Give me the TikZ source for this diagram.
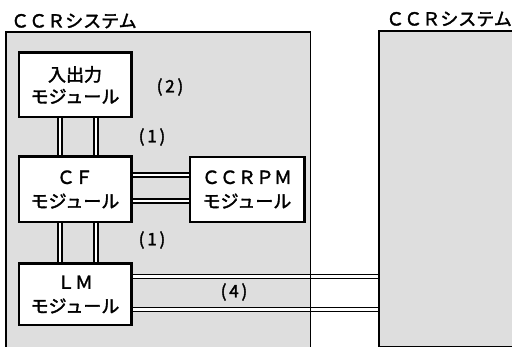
\documentclass[tikz,border=0pt]{standalone}
\usepackage{fontspec}
\setmainfont{Noto Sans CJK JP}
\newfontfamily\jpmed{Noto Sans CJK JP}[FakeBold=2]
\begin{document}
\begin{tikzpicture}[x=1pt,y=-1pt,
  sysfill/.style={fill=black!13, draw=none, inner sep=0, anchor=north west},
  sysline/.style={draw=black, line width=1.3pt},
  mod/.style={draw=black, line width=1.5pt, fill=white, inner sep=0, align=center, font=\jpmed\fontsize{18}{24}\selectfont},
  dbl/.style={draw=black, double=white, line width=1.4pt, double distance=2.4pt},
  lbl/.style={font=\jpmed\fontsize{17}{20}\selectfont, inner sep=0},
  ttl/.style={font=\jpmed\fontsize{18}{20}\selectfont, inner sep=0}]
\useasboundingbox (0,0) rectangle (512,347);
% system areas
\node[sysfill, minimum width=304pt, minimum height=340pt] (lsys) at (6,32) {};
\node[sysfill, minimum width=150pt, minimum height=315pt] (rsys) at (379,31) {};
\node[ttl, anchor=west] (t1) at (11,21) {ＣＣＲシステム};
\node[ttl, anchor=east] (t2) at (512,19) {ＣＣＲシステム};
% modules
\node[mod, minimum width=112pt, minimum height=64pt] (io) at (75,85) {入出力\\[-2pt]モジュール};
\node[mod, minimum width=112pt, minimum height=65pt] (cf) at (75,189.5) {ＣＦ\\モジュール};
\node[mod, minimum width=114pt, minimum height=64pt] (pm) at (247,189.5) {ＣＣＲＰＭ\\モジュール};
\node[mod, minimum width=112pt, minimum height=61pt] (lm) at (75,294.5) {ＬＭ\\モジュール};
% connectors
\draw[dbl] ([xshift=-15pt]io.south) -- ([xshift=-15pt]cf.north);
\draw[dbl] ([xshift=21pt]io.south) -- ([xshift=21pt]cf.north);
\draw[dbl] ([xshift=-15pt]cf.south) -- ([xshift=-15pt]lm.north);
\draw[dbl] ([xshift=21pt]cf.south) -- ([xshift=21pt]lm.north);
\draw[dbl] ([yshift=14.5pt]cf.east) -- ([yshift=14.5pt]pm.west);
\draw[dbl] ([yshift=-11.5pt]cf.east) -- ([yshift=-11.5pt]pm.west);
\coordinate (a1) at ([yshift=18pt]lm.east);
\coordinate (a2) at ([yshift=-15pt]lm.east);
\draw[dbl] (a1) -- (a1 -| rsys.west);
\draw[dbl] (a2) -- (a2 -| rsys.west);
% system borders on top
\draw[sysline] (lsys.north west) rectangle (lsys.south east);
\draw[sysline] (rsys.north west) rectangle (rsys.south east);
% module borders redrawn on top of connector ends
\foreach \m in {io,cf,pm,lm} \draw[line width=1.5pt] (\m.north west) rectangle (\m.south east);
% labels
\node[lbl] (l2) at (170,87) {(\,2\,)};
\node[lbl] (l1a) at (152,137) {(\,1\,)};
\node[lbl] (l1b) at (152,240) {(\,1\,)};
\node[lbl] (l4) at (234,292) {(\,4\,)};
\end{tikzpicture}
\end{document}
